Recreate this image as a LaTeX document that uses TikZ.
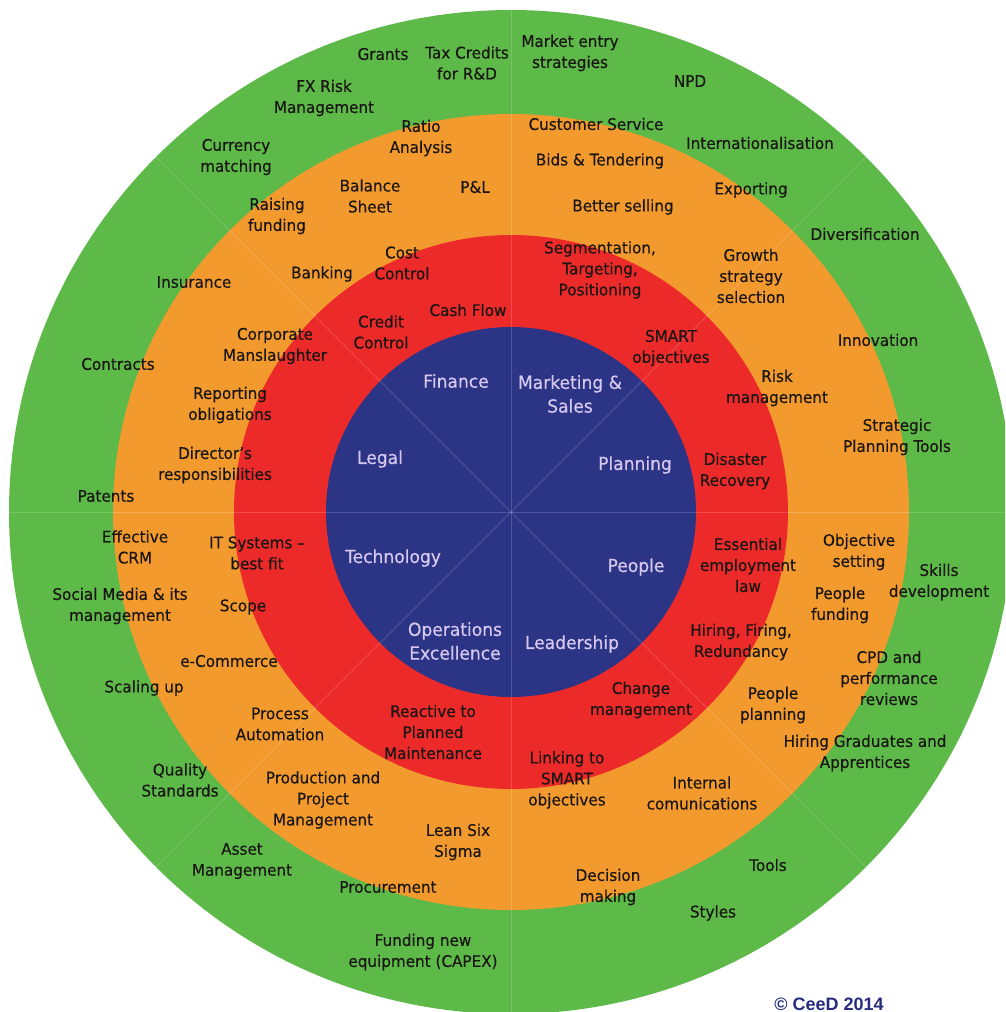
\documentclass[tikz,border=0pt]{standalone}
\usepackage{fontspec}
\setmainfont{DejaVu Sans}[FakeStretch=0.95,FakeBold=0.35]
\newfontfamily\copyfont{Liberation Sans}
\definecolor{ringgreen}{RGB}{93,185,72}
\definecolor{ringorange}{RGB}{243,154,46}
\definecolor{ringred}{RGB}{236,42,42}
\definecolor{ringblue}{RGB}{44,52,134}
\definecolor{txtdark}{RGB}{25,22,20}
\definecolor{txtlight}{RGB}{216,200,240}
\definecolor{copyblue}{RGB}{40,44,126}
\begin{document}
\begin{tikzpicture}[x=1pt,y=-1pt,
  lbl/.style={align=center, inner sep=0pt, text=txtdark, font=\fontsize{16}{21}\selectfont},
  core/.style={align=center, inner sep=0pt, text=txtlight, font=\fontsize{18}{23.7}\selectfont},
  divider/.style={draw=white, draw opacity=0.17, line width=0.8pt}]
\useasboundingbox (0,0) rectangle (1005,1012);
\fill[white] (0,0) rectangle (1005,1012);
\coordinate (c) at (511,512);
\begin{scope}
  \clip (0,0) rectangle (1005,1012);
  % concentric rings
  \fill[ringgreen]  (c) circle[radius=502];
  \fill[ringorange] (c) circle[radius=398];
  \fill[ringred]    (c) circle[radius=277];
  \fill[ringblue]   (c) circle[radius=185];
  % sector dividers
  \foreach \a in {0,45,...,315}
    \draw[divider] (c) -- ++(\a:502);
\end{scope}

% outer ring
\node[lbl] (grants)   at (383,54)  {Grants};
\node[lbl] (taxcred)  at (467,63)  {Tax Credits\\for R\&D};
\node[lbl] (fxrisk)   at (324,98)  {FX Risk\\Management};
\node[lbl] (currency) at (236,157) {Currency\\matching};
\node[lbl] (insur)    at (194,282) {Insurance};
\node[lbl] (contract) at (118,364) {Contracts};
\node[lbl] (patents)  at (106,496) {Patents};
\node[lbl] (mktentry) at (570,53)  {Market entry\\strategies};
\node[lbl] (npd)      at (690,81)  {NPD};
\node[lbl] (intl)     at (760,143) {Internationalisation};
\node[lbl] (divers)   at (865,234) {Diversification};
\node[lbl] (innov)    at (878,340) {Innovation};
\node[lbl] (sptools)  at (897,437) {Strategic\\Planning Tools};
\node[lbl] (crm)      at (135,547) {Effective\\CRM};
\node[lbl] (social)   at (120,606) {Social Media \& its\\management};
\node[lbl] (scaling)  at (144,688) {Scaling up};
\node[lbl] (quality)  at (180,780) {Quality\\Standards};
\node[lbl] (asset)    at (242,861) {Asset\\Management};
\node[lbl] (procure)  at (388,887) {Procurement};
\node[lbl] (capex)    at (423,952) {Funding new\\equipment (CAPEX)};
\node[lbl] (skills)   at (939,582) {Skills\\development};
\node[lbl] (gradapp)  at (865,753) {Hiring Graduates and\\Apprentices};
\node[lbl] (cpd)      at (889,678) {CPD and\\performance\\reviews};
\node[lbl] (tools)    at (768,865) {Tools};
\node[lbl] (styles)   at (713,913) {Styles};

% second ring
\node[lbl] (ratio)    at (421,138) {Ratio\\Analysis};
\node[lbl] (balance)  at (370,196) {Balance\\Sheet};
\node[lbl] (pl)       at (475,187) {P\&L};
\node[lbl] (raising)  at (277,216) {Raising\\funding};
\node[lbl] (banking)  at (322,274) {Banking};
\node[lbl] (corpman)  at (275,346) {Corporate\\Manslaughter};
\node[lbl] (report)   at (230,405) {Reporting\\obligations};
\node[lbl] (director) at (215,465) {Director’s\\responsibilities};
\node[lbl] (custserv) at (596,124) {Customer Service};
\node[lbl] (bids)     at (600,161) {Bids \& Tendering};
\node[lbl] (better)   at (623,207) {Better selling};
\node[lbl] (export)   at (751,190) {Exporting};
\node[lbl] (growth)   at (751,276) {Growth\\strategy\\selection};
\node[lbl] (riskman)  at (777,388) {Risk\\management};
\node[lbl] (objset)   at (859,552) {Objective\\setting};
\node[lbl] (pfund)    at (840,605) {People\\funding};
\node[lbl] (pplan)    at (773,705) {People\\planning};
\node[lbl] (intcom)   at (702,793) {Internal\\comunications};
\node[lbl] (decision) at (608,887) {Decision\\making};
\node[lbl] (linking)  at (567,780) {Linking to\\SMART\\objectives};
\node[lbl] (itsys)    at (257,553) {IT Systems –\\best fit};
\node[lbl] (scope)    at (243,607) {Scope};
\node[lbl] (ecomm)    at (229,661) {e-Commerce};
\node[lbl] (procauto) at (280,724) {Process\\Automation};
\node[lbl] (prodproj) at (323,800) {Production and\\Project\\Management};
\node[lbl] (lean)     at (458,842) {Lean Six\\Sigma};

% third ring
\node[lbl] (cost)     at (402,263) {Cost\\Control};
\node[lbl] (cash)     at (468,310) {Cash Flow};
\node[lbl] (credit)   at (381,332) {Credit\\Control};
\node[lbl] (segment)  at (600,270) {Segmentation,\\Targeting,\\Positioning};
\node[lbl] (smart)    at (671,348) {SMART\\objectives};
\node[lbl] (disaster) at (735,471) {Disaster\\Recovery};
\node[lbl] (emplaw)   at (748,565) {Essential\\employment\\law};
\node[lbl] (hiring)   at (741,642) {Hiring, Firing,\\Redundancy};
\node[lbl] (change)   at (641,700) {Change\\management};
\node[lbl] (reactive) at (433,732) {Reactive to\\Planned\\Maintenance};

% core areas
\node[core] (finance)  at (456,381) {Finance};
\node[core] (legal)    at (380,459) {Legal};
\node[core] (mktsales) at (570,394) {Marketing \&\\Sales};
\node[core] (planning) at (635,465) {Planning};
\node[core] (tech)     at (393,558) {Technology};
\node[core] (opex)     at (455,641) {Operations\\Excellence};
\node[core] (people)   at (636,567) {People};
\node[core] (leader)   at (572,644) {Leadership};

% copyright line
\node[inner sep=0pt, text=copyblue, font=\copyfont\bfseries\fontsize{18}{20}\selectfont]
  (copy) at (829,1004) {© CeeD 2014};
\end{tikzpicture}
\end{document}
